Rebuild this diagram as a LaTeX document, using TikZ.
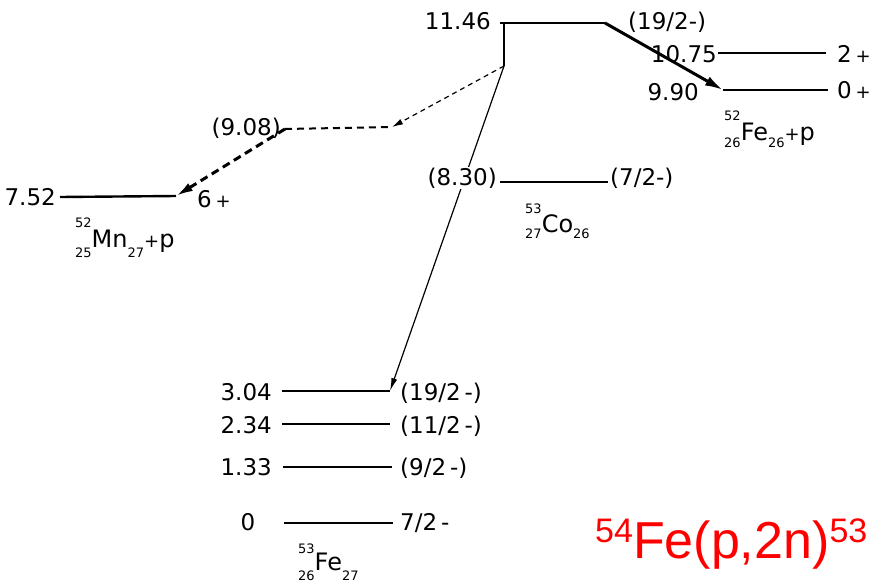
\documentclass[tikz,border=0pt]{standalone}
\usepackage{fontspec}
\setmainfont{DejaVu Sans}
\newfontfamily\redfont{Liberation Sans}
\usetikzlibrary{arrows.meta}
\newcommand\lblsize{\fontsize{23}{25}\selectfont}
\newcommand\scr{\fontsize{13}{14}\selectfont}
\newcommand\smp{{\fontsize{18}{18}\selectfont +}}
\newcommand\nucl[6]{\rlap{\raisebox{#5}{\scr #1}}\raisebox{-#6}{\scr #2}#3\raisebox{-#6}{\scr #4}}
\begin{document}
\begin{tikzpicture}[x=1pt,y=-1pt,
  lev/.style={line width=2.4pt},
  lbl/.style={inner sep=0pt, font=\lblsize},
  nuc/.style={inner sep=0pt, anchor=base west, font=\fontsize{24}{26}\selectfont},
  bigarrow/.style={line width=3pt, -{Latex[length=18pt,width=10pt]}},
  thinarrow/.style={line width=1.2pt, -{Latex[length=13pt,width=6pt]}},
  thindash/.style={line width=1.2pt, dash pattern=on 5pt off 4pt, -{Latex[length=11pt,width=6pt]}},
  thickdash/.style={line width=3pt, dash pattern=on 8pt off 5pt, -{Latex[length=17pt,width=9pt]}},
  levdash/.style={line width=2pt, dash pattern=on 7pt off 5pt}]
\path[fill=white] (0,0) rectangle (874,583);
\useasboundingbox (0,0) rectangle (874,583);
% level coordinates
\coordinate (a1) at (500,23); \coordinate (a0) at (504,23); \coordinate (a2) at (605,23);
\coordinate (b1) at (718,53); \coordinate (b2) at (826,53);
\coordinate (c1) at (723,90); \coordinate (c2) at (828,90);
\coordinate (d1) at (285,129); \coordinate (d2) at (392,127);
\coordinate (e1) at (60,197); \coordinate (e2) at (176,196);
\coordinate (f1) at (500,182); \coordinate (f2) at (608,182);
\coordinate (g1) at (282,391); \coordinate (g2) at (390,391);
\coordinate (h1) at (282,424); \coordinate (h2) at (390,424);
\coordinate (i1) at (283,467); \coordinate (i2) at (392,467);
\coordinate (j1) at (284,523); \coordinate (j2) at (393,523);
\coordinate (k) at (504,66);
% levels
\draw[lev] (a1) -- (a2);
\draw[lev] (b1) -- (b2);
\draw[lev] (c1) -- (c2);
\draw[levdash] (d1) -- (d2);
\draw[lev] (e1) -- (e2);
\draw[lev] (f1) -- (f2);
\draw[lev] (g1) -- (g2);
\draw[lev] (h1) -- (h2);
\draw[lev] (i1) -- (i2);
\draw[lev] (j1) -- (j2);
% transitions
\draw[bigarrow] (a2) -- (c1);
\draw[line width=1.5pt] (a0) -- (k);
\draw[thindash] (k) -- (d2);
\draw[thickdash] (d1) -- (e2);
\draw[thinarrow] (k) -- (g2);
% labels
\node[lbl, anchor=base east] (t1146) at (491,30) {11.46};
\node[lbl, anchor=base west] (t192a) at (628,30) {(19/2-)};
\node[lbl, anchor=base east] (t1075) at (717,63) {10.75};
\node[lbl, anchor=base west] (t2p) at (837,63) {2\,\smp};
\node[lbl, anchor=base east] (t990) at (699,100) {9.90};
\node[lbl, anchor=base west] (t0p) at (837,99) {0\,\smp};
\node[lbl, anchor=base east] (t752) at (56,205) {7.52};
\node[lbl, anchor=base west] (t6p) at (197,207) {6\,\smp};
\node[lbl, anchor=base east] (t908) at (281,135) {(9.08)};
\node[lbl, anchor=base east, fill=white, inner sep=1pt] (t830) at (498,185) {(8.30)};
\node[lbl, anchor=base west] (t72a) at (610,185) {(7/2-)};
\node[lbl, anchor=base east] (t304) at (272,400) {3.04};
\node[lbl, anchor=base west] (t192b) at (400,400) {(19/2\,-)};
\node[lbl, anchor=base east] (t234) at (272,433) {2.34};
\node[lbl, anchor=base west] (t112) at (400,433) {(11/2\,-)};
\node[lbl, anchor=base east] (t133) at (272,475) {1.33};
\node[lbl, anchor=base west] (t92) at (400,475) {(9/2\,-)};
\node[lbl, anchor=base] (t0) at (248,530) {0};
\node[lbl, anchor=base west] (t72b) at (400,530) {7/2\,-};
% nuclide labels
\node[nuc] (nfe52) at (724,140) {\nucl{52}{26}{Fe}{26}{20pt}{7pt}\smp p};
\node[nuc] (nmn52) at (75,247) {\nucl{52}{25}{Mn}{27}{20pt}{10pt}\smp p};
\node[nuc] (nco53) at (525,232) {\nucl{53}{27}{Co}{26}{19pt}{6pt}};
\node[nuc] (nfe53) at (298,570) {\nucl{53}{26}{Fe}{27}{17pt}{10pt}};
% title
\node[anchor=base west, inner sep=0pt, text=red, font=\redfont\fontsize{52}{56}\selectfont] (title) at (595,558)
  {\raisebox{16pt}{\fontsize{34}{36}\selectfont 54}Fe(p,2n)\raisebox{16pt}{\fontsize{34}{36}\selectfont 53}};
\end{tikzpicture}
\end{document}
